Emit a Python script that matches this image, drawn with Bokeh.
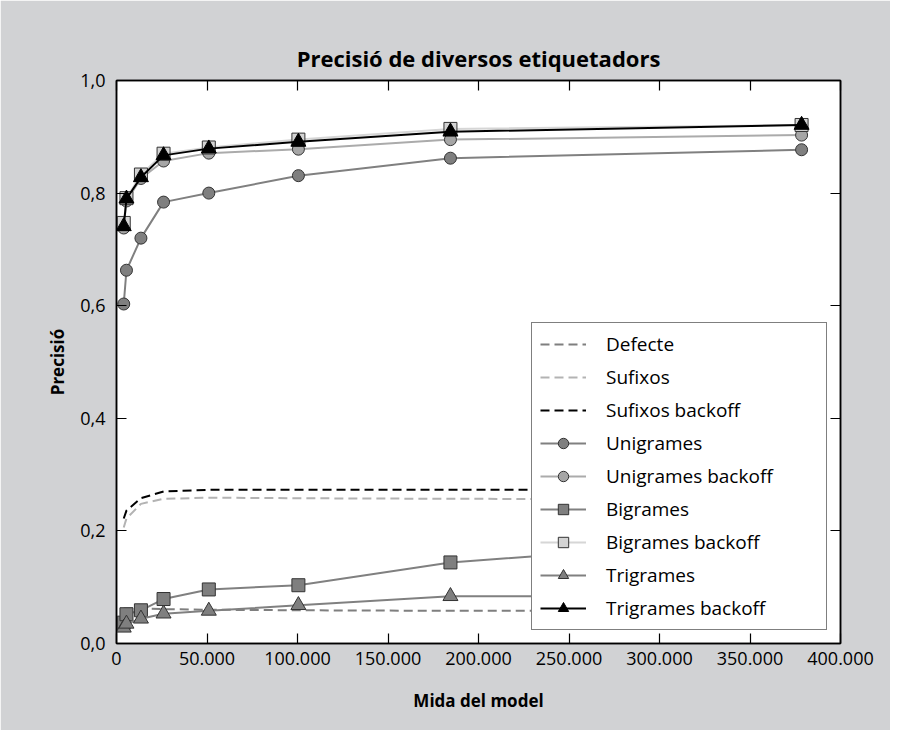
from bokeh.plotting import figure
from bokeh.models import Range1d, LinearAxis, FixedTicker, Legend, LegendItem, CustomJSTickFormatter
from bokeh.embed import file_html
from bokeh.resources import INLINE

# ---- data ----
mida = [4000, 5500, 13500, 26000, 51000, 100500, 184500, 378500]

defecte = [0.062, 0.062, 0.062, 0.061, 0.060, 0.059, 0.058, 0.058]
sufixos = [0.206, 0.222, 0.248, 0.257, 0.259, 0.258, 0.257, 0.256]
sufixos_backoff = [0.222, 0.236, 0.258, 0.270, 0.273, 0.273, 0.273, 0.273]
unigrames = [0.603, 0.663, 0.720, 0.784, 0.800, 0.831, 0.862, 0.877]
unigrames_backoff = [0.738, 0.786, 0.826, 0.857, 0.871, 0.878, 0.895, 0.903]
bigrames = [0.037, 0.052, 0.059, 0.079, 0.096, 0.1035, 0.144, 0.190]
bigrames_backoff = [0.747, 0.791, 0.833, 0.870, 0.881, 0.895, 0.914, 0.921]
trigrames = [0.028, 0.035, 0.044, 0.053, 0.058, 0.068, 0.084, 0.084]
trigrames_backoff = [0.741, 0.790, 0.828, 0.867, 0.879, 0.891, 0.909, 0.921]

x_ticks = [0, 50000, 100000, 150000, 200000, 250000, 300000, 350000, 400000]
x_tick_labels = ["0", "50.000", "100.000", "150.000", "200.000", "250.000",
                 "300.000", "350.000", "400.000"]
y_ticks = [0.0, 0.2, 0.4, 0.6, 0.8, 1.0]
y_tick_labels = ["0,0", "0,2", "0,4", "0,6", "0,8", "1,0"]

FONT = "Open Sans"
GRAY_BG = "#d1d2d4"

p = figure(width=890, height=730,
           x_range=Range1d(0, 400000), y_range=Range1d(0, 1),
           output_backend="svg", toolbar_location=None,
           min_border_left=116, min_border_right=50,
           min_border_top=80, min_border_bottom=87)

p.background_fill_color = "white"
p.border_fill_color = GRAY_BG
p.outline_line_color = "black"
p.outline_line_width = 1.5
p.xgrid.grid_line_color = None
p.ygrid.grid_line_color = None

p.title.text = "Precisió de diversos etiquetadors"
p.title.align = "center"
p.title.text_font = FONT
p.title.text_font_size = "22px"
p.title.text_font_style = "bold"
p.title.text_color = "black"
p.title.standoff = 15

def style_axis(ax, ticks, labels=None):
    ax.ticker = FixedTicker(ticks=ticks)
    ax.major_tick_in = 10
    ax.major_tick_out = 0
    ax.minor_tick_line_color = None
    ax.major_tick_line_color = "black"
    ax.major_tick_line_width = 1.2
    ax.axis_line_color = "black"
    ax.axis_line_width = 1.5
    ax.major_label_text_font = FONT
    ax.major_label_text_font_size = "18px"
    ax.major_label_text_color = "black"
    if labels is not None:
        ax.major_label_overrides = {t: l for t, l in zip(ticks, labels)}
    else:
        ax.formatter = CustomJSTickFormatter(code="return '';")

xax = p.xaxis[0]
style_axis(xax, x_ticks, x_tick_labels)
xax.major_label_standoff = 8
xax.axis_label = "Mida del model"
xax.axis_label_text_font = FONT
xax.axis_label_text_font_size = "17px"
xax.axis_label_text_font_style = "bold"
xax.axis_label_text_color = "black"
xax.axis_label_standoff = 21

yax = p.yaxis[0]
style_axis(yax, y_ticks, y_tick_labels)
yax.major_label_standoff = 11
yax.axis_label = "Precisió"
yax.axis_label_text_font = FONT
yax.axis_label_text_font_size = "17px"
yax.axis_label_text_font_style = "bold"
yax.axis_label_text_color = "black"
yax.axis_label_standoff = 8

top = LinearAxis()
style_axis(top, x_ticks)
p.add_layout(top, "above")
right = LinearAxis()
style_axis(right, y_ticks)
p.add_layout(right, "right")

items = []

def dashed(y, color, label):
    r = p.line(mida, y, line_color=color, line_width=2, line_dash="9 5")
    items.append(LegendItem(label=label, renderers=[r]))

def marked(y, line_color, fill, marker, size, edge, label):
    r1 = p.line(mida, y, line_color=line_color, line_width=2)
    r2 = p.scatter(mida, y, marker=marker, size=size, fill_color=fill,
                   line_color=edge, line_width=1)
    items.append(LegendItem(label=label, renderers=[r1, r2]))

dashed(defecte, "#7f7f7f", "Defecte")
dashed(sufixos, "#b3b3b3", "Sufixos")
dashed(sufixos_backoff, "#000000", "Sufixos backoff")
marked(unigrames, "#808080", "#7f7f7f", "circle", 12, "#333333", "Unigrames")
marked(unigrames_backoff, "#ababab", "#a6a6a6", "circle", 12, "#333333", "Unigrames backoff")
marked(bigrames, "#808080", "#7f7f7f", "square", 13, "#333333", "Bigrames")
marked(bigrames_backoff, "#d6d6d6", "#d3d3d3", "square", 13, "#333333", "Bigrames backoff")
marked(trigrames, "#808080", "#7f7f7f", "triangle", 15, "#333333", "Trigrames")
marked(trigrames_backoff, "#000000", "#000000", "triangle", 15, "#000000", "Trigrames backoff")

legend = Legend(items=items, location="bottom_right")
legend.margin = 13
legend.padding = 8
legend.spacing = 7
legend.glyph_width = 46
legend.glyph_height = 26
legend.label_height = 20
legend.label_width = 212
legend.label_standoff = 20
legend.label_text_font = FONT
legend.label_text_font_size = "19px"
legend.label_text_color = "black"
legend.border_line_color = "black"
legend.border_line_width = 1.5
legend.background_fill_color = "white"
legend.background_fill_alpha = 1.0
p.add_layout(legend, "center")

open("out.html", "w").write(file_html(p, INLINE))
